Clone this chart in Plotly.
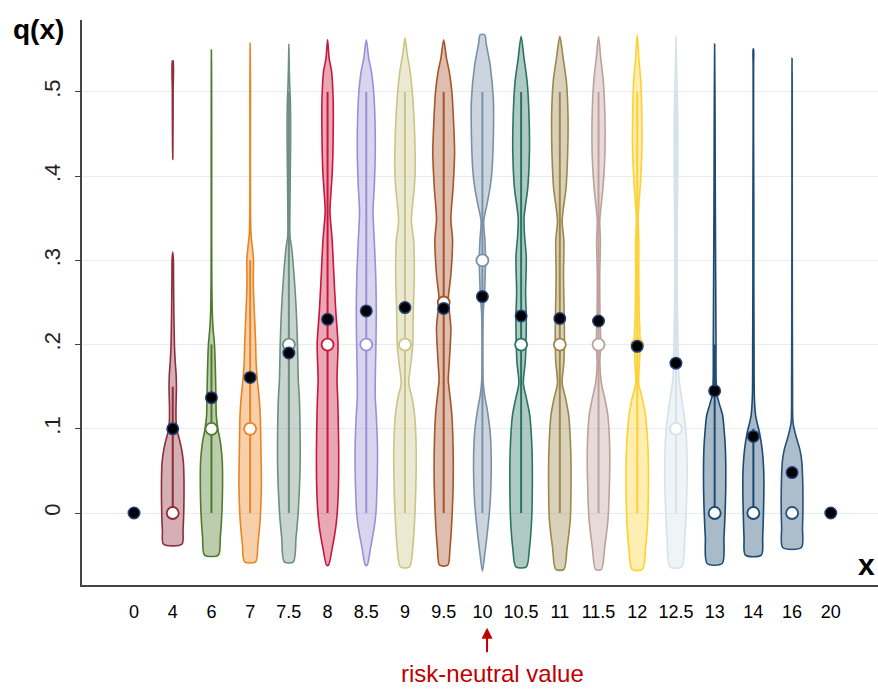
import plotly.graph_objects as go

# Prizes x (categories along the horizontal axis)
CATEGORIES = ["0", "4", "6", "7", "7.5", "8", "8.5", "9", "9.5", "10",
              "10.5", "11", "11.5", "12", "12.5", "13", "14", "16", "20"]

# Mean and median of q(x) per prize (None = not drawn)
MEANS = [0.0, 0.100, 0.137, 0.161, 0.190, 0.230, 0.240, 0.244, 0.243, 0.257,
         0.234, 0.231, 0.228, 0.198, 0.178, 0.145, 0.091, 0.048, 0.0]
MEDIANS = [None, 0.0, 0.1, 0.1, 0.2, 0.2, 0.2, 0.2, 0.25, 0.3,
           0.2, 0.2, 0.2, 0.2, 0.1, 0.0, 0.0, 0.0, None]
# Upper end of the inner line (drawn from 0)
BOX_HI = [None, 0.15, 0.2, 0.3, 0.5, 0.5, 0.5, 0.5, 0.5, 0.5,
          0.5, 0.5, 0.5, 0.5, 0.5, 0.2, 0.1, None, None]

# Kernel-density profiles: (q level, relative half-width)
DENS_4_LOW = [(-0.037, 0.82), (-0.02, 0.92), (0.0, 0.98), (0.04, 1.0), (0.06, 0.95),
              (0.075, 0.8), (0.087, 0.6), (0.096, 0.42), (0.108, 0.3), (0.125, 0.29),
              (0.15, 0.33), (0.165, 0.3), (0.18, 0.22), (0.2, 0.15), (0.24, 0.1),
              (0.28, 0.07), (0.30, 0.06), (0.31, 0.0)]
DENS_4_HIGH = [(0.42, 0.0), (0.44, 0.015), (0.47, 0.03), (0.5, 0.035), (0.537, 0.03)]
DENS_6 = [(-0.05, 0.61), (-0.029, 0.79), (0.0, 0.93), (0.033, 0.99), (0.062, 0.96),
          (0.083, 0.81), (0.1, 0.57), (0.116, 0.43), (0.137, 0.4), (0.158, 0.37),
          (0.179, 0.33), (0.2, 0.27), (0.22, 0.14), (0.24, 0.07), (0.28, 0.03),
          (0.37, 0.02), (0.45, 0.02), (0.5, 0.015), (0.53, 0.008), (0.55, 0.0)]
DENS_7 = [(-0.058, 0.49), (-0.037, 0.69), (-0.008, 0.89), (0.033, 1.0), (0.075, 0.96),
          (0.116, 0.9), (0.137, 0.8), (0.158, 0.64), (0.179, 0.53), (0.2, 0.49),
          (0.22, 0.43), (0.24, 0.37), (0.262, 0.3), (0.283, 0.28), (0.3, 0.3),
          (0.315, 0.2), (0.33, 0.08), (0.36, 0.03), (0.45, 0.02), (0.5, 0.025),
          (0.54, 0.01), (0.558, 0.0)]
DENS_7_5 = [(-0.058, 0.4), (-0.029, 0.64), (0.0, 0.83), (0.054, 1.0), (0.096, 1.0),
            (0.137, 0.93), (0.158, 0.84), (0.2, 0.77), (0.24, 0.66), (0.283, 0.46),
            (0.316, 0.24), (0.329, 0.1), (0.366, 0.1), (0.408, 0.13), (0.45, 0.16),
            (0.49, 0.13), (0.51, 0.07), (0.54, 0.02), (0.557, 0.0)]
DENS_8 = [(-0.062, 0.08), (-0.042, 0.41), (-0.017, 0.73), (0.0, 0.86), (0.033, 0.97),
          (0.075, 0.99), (0.116, 0.94), (0.137, 0.9), (0.158, 0.84), (0.2, 0.93),
          (0.22, 0.84), (0.24, 0.73), (0.283, 0.56), (0.324, 0.41), (0.358, 0.21),
          (0.374, 0.27), (0.408, 0.43), (0.45, 0.5), (0.49, 0.5), (0.524, 0.36),
          (0.54, 0.14), (0.562, 0.0)]
DENS_8_5 = [(-0.062, 0.08), (-0.042, 0.37), (-0.017, 0.71), (0.0, 0.86), (0.033, 0.96),
            (0.075, 1.0), (0.116, 0.89), (0.137, 0.8), (0.158, 0.8), (0.2, 0.86),
            (0.24, 0.89), (0.283, 0.84), (0.324, 0.71), (0.358, 0.6), (0.387, 0.71),
            (0.428, 0.8), (0.47, 0.77), (0.5, 0.66), (0.524, 0.46), (0.54, 0.22),
            (0.562, 0.0)]
DENS_9 = [(-0.064, 0.4), (-0.042, 0.69), (-0.008, 0.86), (0.033, 0.97), (0.075, 1.0),
          (0.116, 0.86), (0.137, 0.63), (0.154, 0.34), (0.179, 0.54), (0.2, 0.69),
          (0.24, 0.74), (0.283, 0.83), (0.324, 0.77), (0.347, 0.57), (0.387, 0.83),
          (0.408, 0.91), (0.45, 0.86), (0.49, 0.71), (0.524, 0.46), (0.545, 0.2),
          (0.564, 0.0)]
DENS_9_5 = [(-0.062, 0.36), (-0.042, 0.56), (-0.008, 0.73), (0.033, 0.84), (0.075, 0.84),
            (0.116, 0.73), (0.146, 0.5), (0.158, 0.41), (0.179, 0.5), (0.22, 0.64),
            (0.24, 0.5), (0.254, 0.41), (0.283, 0.64), (0.324, 0.79), (0.349, 0.64),
            (0.387, 0.84), (0.428, 0.97), (0.47, 0.86), (0.5, 0.73), (0.524, 0.5),
            (0.54, 0.25), (0.562, 0.0)]
DENS_10 = [(-0.069, 0.0), (-0.05, 0.2), (-0.017, 0.49), (0.0125, 0.69), (0.054, 0.79),
           (0.096, 0.69), (0.125, 0.4), (0.141, 0.18), (0.158, 0.06), (0.2, 0.03),
           (0.24, 0.08), (0.258, 0.18), (0.283, 0.25), (0.3, 0.28), (0.324, 0.22),
           (0.347, 0.12), (0.366, 0.4), (0.387, 0.69), (0.408, 0.86), (0.45, 0.98),
           (0.49, 0.98), (0.532, 0.69), (0.557, 0.34), (0.568, 0.2)]
DENS_10_5 = [(-0.064, 0.46), (-0.042, 0.74), (-0.008, 0.94), (0.033, 1.0), (0.075, 0.97),
             (0.116, 0.77), (0.137, 0.46), (0.154, 0.2), (0.179, 0.37), (0.2, 0.43),
             (0.233, 0.46), (0.262, 0.4), (0.304, 0.46), (0.329, 0.31), (0.35, 0.26),
             (0.387, 0.6), (0.428, 0.74), (0.47, 0.71), (0.512, 0.54), (0.54, 0.26),
             (0.566, 0.0)]
DENS_11 = [(-0.067, 0.36), (-0.042, 0.64), (-0.008, 0.93), (0.033, 1.0), (0.075, 0.97),
           (0.116, 0.79), (0.137, 0.5), (0.154, 0.21), (0.179, 0.36), (0.208, 0.41),
           (0.233, 0.39), (0.283, 0.33), (0.324, 0.36), (0.347, 0.21), (0.387, 0.56),
           (0.428, 0.7), (0.47, 0.73), (0.512, 0.59), (0.54, 0.3), (0.566, 0.0)]
DENS_11_5 = [(-0.067, 0.26), (-0.042, 0.54), (-0.008, 0.84), (0.033, 0.97), (0.075, 1.0),
             (0.116, 0.83), (0.137, 0.54), (0.154, 0.26), (0.179, 0.12), (0.2, 0.2),
             (0.229, 0.14), (0.283, 0.11), (0.324, 0.17), (0.347, 0.11), (0.387, 0.4),
             (0.428, 0.57), (0.47, 0.57), (0.512, 0.43), (0.54, 0.2), (0.566, 0.0)]
DENS_12 = [(-0.067, 0.46), (-0.042, 0.74), (-0.008, 0.93), (0.033, 1.0), (0.075, 0.96),
           (0.116, 0.73), (0.137, 0.44), (0.154, 0.13), (0.179, 0.2), (0.2, 0.26),
           (0.24, 0.17), (0.283, 0.14), (0.324, 0.14), (0.35, 0.08), (0.387, 0.26),
           (0.428, 0.41), (0.47, 0.41), (0.512, 0.32), (0.54, 0.14), (0.568, 0.0)]
DENS_12_5 = [(-0.064, 0.5), (-0.029, 0.79), (0.0125, 0.94), (0.054, 1.0), (0.096, 0.89),
             (0.116, 0.73), (0.137, 0.5), (0.158, 0.28), (0.179, 0.21), (0.2, 0.18),
             (0.24, 0.13), (0.283, 0.1), (0.324, 0.1), (0.366, 0.13), (0.408, 0.16),
             (0.45, 0.16), (0.49, 0.13), (0.532, 0.04), (0.566, 0.0)]
DENS_13 = [(-0.06, 0.67), (-0.029, 0.83), (0.0, 0.93), (0.033, 0.99), (0.075, 0.96),
           (0.096, 0.86), (0.116, 0.71), (0.129, 0.43), (0.141, 0.2), (0.158, 0.13),
           (0.2, 0.12), (0.283, 0.09), (0.366, 0.06), (0.428, 0.045), (0.49, 0.03),
           (0.532, 0.01), (0.557, 0.0)]
DENS_14 = [(-0.05, 0.71), (-0.029, 0.83), (0.0, 0.9), (0.033, 0.94), (0.054, 0.91),
           (0.075, 0.79), (0.096, 0.54), (0.108, 0.32), (0.116, 0.2), (0.137, 0.09),
           (0.2, 0.06), (0.283, 0.04), (0.366, 0.04), (0.45, 0.02), (0.532, 0.02),
           (0.551, 0.015)]
DENS_16 = [(-0.041, 0.83), (-0.017, 0.93), (0.0125, 0.97), (0.042, 0.94), (0.062, 0.86),
           (0.075, 0.7), (0.087, 0.44), (0.098, 0.22), (0.108, 0.08), (0.158, 0.04),
           (0.283, 0.02), (0.366, 0.015), (0.45, 0.015), (0.512, 0.01), (0.54, 0.0)]

VIOLINS = {
    "4": [DENS_4_LOW, DENS_4_HIGH], "6": [DENS_6], "7": [DENS_7], "7.5": [DENS_7_5],
    "8": [DENS_8], "8.5": [DENS_8_5], "9": [DENS_9], "9.5": [DENS_9_5],
    "10": [DENS_10], "10.5": [DENS_10_5], "11": [DENS_11], "11.5": [DENS_11_5],
    "12": [DENS_12], "12.5": [DENS_12_5], "13": [DENS_13], "14": [DENS_14],
    "16": [DENS_16],
}

COLORS = {
    "4": "#8f2d3b", "6": "#4e7b2b", "7": "#ea8420", "7.5": "#6c8f80",
    "8": "#c8173d", "8.5": "#9a90d6", "9": "#cbc487", "9.5": "#a8542a",
    "10": "#7991a7", "10.5": "#2a7462", "11": "#9d874b", "11.5": "#bda19b",
    "12": "#fed133", "12.5": "#d5e2e9", "13": "#1d4a70", "14": "#1d4a70",
    "16": "#26527a",
}
MEAN_EDGE = "#23407a"
HALF_WIDTH = 0.29  # max half-width of a violin, in category units


def tint(hex_color, alpha):
    h = hex_color.lstrip("#")
    r, g, b = (int(h[i:i + 2], 16) for i in (0, 2, 4))
    return f"rgba({r},{g},{b},{alpha})"


fig = go.Figure()
pos = {c: i for i, c in enumerate(CATEGORIES)}

# violin bodies
for cat, segments in VIOLINS.items():
    x0 = pos[cat]
    col = COLORS[cat]
    for seg in segments:
        right = [(x0 + w * HALF_WIDTH, q) for q, w in seg]
        left = [(x0 - w * HALF_WIDTH, q) for q, w in reversed(seg)]
        if left and left[0] == right[-1]:
            left = left[1:]
        pts = right + left
        if pts[-1] != pts[0]:
            pts.append(pts[0])
        fig.add_trace(go.Scatter(
            x=[p[0] for p in pts], y=[p[1] for p in pts],
            mode="lines", fill="toself", fillcolor=tint(col, 0.38),
            line=dict(color=col, width=1.6, shape="spline", smoothing=0.8),
            hoverinfo="skip", showlegend=False))

# inner lines
for i, cat in enumerate(CATEGORIES):
    if BOX_HI[i] is None:
        continue
    fig.add_trace(go.Scatter(
        x=[i, i], y=[0, BOX_HI[i]], mode="lines",
        line=dict(color=COLORS[cat], width=2), hoverinfo="skip", showlegend=False))

# medians
med_x = [i for i, m in enumerate(MEDIANS) if m is not None]
fig.add_trace(go.Scatter(
    x=med_x, y=[MEDIANS[i] for i in med_x], mode="markers",
    marker=dict(size=12, color="white",
                line=dict(color=[COLORS[CATEGORIES[i]] for i in med_x], width=1.8)),
    hoverinfo="skip", showlegend=False))

# means
fig.add_trace(go.Scatter(
    x=list(range(len(CATEGORIES))), y=MEANS, mode="markers",
    marker=dict(size=11.5, color="black", line=dict(color=MEAN_EDGE, width=1.5)),
    hoverinfo="skip", showlegend=False))

fig.update_layout(
    width=878, height=690,
    margin=dict(l=82, r=0, t=20, b=105),
    paper_bgcolor="white", plot_bgcolor="white",
    font=dict(family="Liberation Sans, Arial, sans-serif", color="black"),
    xaxis=dict(
        range=[-1.344, 19.22], tickmode="array",
        tickvals=list(range(len(CATEGORIES))), ticktext=CATEGORIES,
        tickfont=dict(size=18), ticks="", showgrid=False, zeroline=False,
        showline=True, linecolor="#444444", linewidth=1.5,
        ticklabelstandoff=10),
    yaxis=dict(
        range=[-0.0855, 0.5855], tickmode="array",
        tickvals=[0, 0.1, 0.2, 0.3, 0.4, 0.5],
        ticktext=["0", ".1", ".2", ".3", ".4", ".5"],
        tickangle=-90, tickfont=dict(size=22, color="#222222"),
        ticks="outside", ticklen=5, tickcolor="#444444", tickwidth=1.2,
        ticklabelstandoff=6,
        showgrid=True, gridcolor="#e6eef0", gridwidth=1.2, zeroline=False,
        showline=True, linecolor="#444444", linewidth=1.5),
    annotations=[
        dict(text="<b>q(x)</b>", xref="paper", yref="paper", x=-0.055, y=0.984,
             xanchor="center", yanchor="middle", showarrow=False,
             font=dict(size=28, color="black")),
        dict(text="<b>x</b>", xref="paper", yref="paper", x=0.985, y=0.036,
             xanchor="center", yanchor="middle", showarrow=False,
             font=dict(size=30, color="black")),
        dict(text="risk-neutral value", xref="x", yref="paper", x=9.25, y=-0.156,
             xanchor="center", yanchor="middle", showarrow=False,
             font=dict(size=24, color="#c00000")),
        dict(text="", xref="x", yref="paper", x=9.12, y=-0.0755,
             ax=0, ay=26, showarrow=True, arrowhead=2, arrowsize=1.1,
             arrowwidth=2, arrowcolor="#c00000"),
    ],
)

fig.write_html("out.html")
